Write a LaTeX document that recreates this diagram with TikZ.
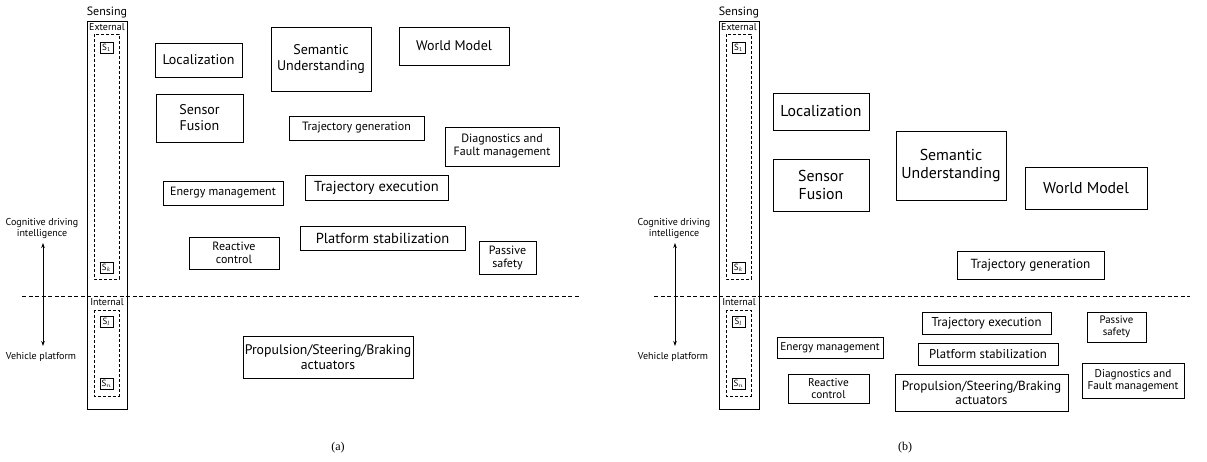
\documentclass[tikz,border=0pt]{standalone}
\usepackage{fontspec}
\setmainfont{Liberation Serif}
\newfontfamily\boxfont{PT Sans}
\usetikzlibrary{arrows.meta}

\newcommand{\fsz}[1]{\fontsize{#1}{#1}\selectfont}

\tikzset{
  blk/.style={draw, line width=0.9pt, inner sep=0pt, align=center, font=\boxfont},
  sensor/.style={draw, line width=0.7pt, inner sep=0pt, minimum width=13pt, minimum height=11pt, font=\boxfont\fsz{9}},
  group/.style={draw, dashed, line width=0.8pt, dash pattern=on 3pt off 2pt},
  column/.style={draw, line width=0.9pt},
  divider/.style={dashed, line width=0.8pt, dash pattern=on 4pt off 2.5pt},
  lvl/.style={align=center, font=\boxfont\fsz{10}, inner sep=0pt},
  tag/.style={font=\fsz{12}, inner sep=0pt},
}

% sensing column: outer frame, external and internal sensor groups
\newcommand{\sensingcol}[2]{%
  \begin{scope}[xshift=#1]
    \draw[column] (87,21) rectangle (127,409);
    \node[font=\boxfont\fsz{12}, inner sep=0pt] (#2sensing) at (107,13) {Sensing};
    \node[font=\boxfont\fsz{10}, inner sep=0pt] (#2ext) at (107,27.5) {External};
    \draw[group] (94,34) rectangle (119,279);
    \node[sensor] (#2s1) at (106.5,47.5) {S$_1$};
    \node[sensor] (#2sk) at (106.5,267.5) {S$_k$};
    \node[font=\boxfont\fsz{10}, inner sep=0pt] (#2int) at (107,302.5) {Internal};
    \draw[group] (94,310) rectangle (119,396);
    \node[sensor] (#2sl) at (106.5,322) {S$_l$};
    \node[sensor] (#2sn) at (106.5,384) {S$_n$};
    \node[lvl] (#2cog) at (42,229) {Cognitive driving\\[1pt]intelligence};
    \node[lvl] (#2veh) at (41,357) {Vehicle platform};
    \coordinate (#2atop) at (43,243);
    \coordinate (#2abot) at (43,346);
    \draw[line width=0.8pt, {Stealth[length=5pt,width=3.5pt]}-{Stealth[length=5pt,width=3.5pt]}] (#2atop) -- (#2abot);
  \end{scope}}

\begin{document}
\begin{tikzpicture}[x=1pt, y=-1pt]
  \useasboundingbox (0,0) rectangle (1207,462);

  % ---------------- panel (a) ----------------
  \sensingcol{0pt}{a}
  \coordinate (adl) at (22,296);
  \coordinate (adr) at (580,296);
  \draw[divider] (adl) -- (adr);

  \node[blk, minimum width=87pt, minimum height=34pt, font=\boxfont\fsz{14}] (aloc) at (198.5,60) {Localization};
  \node[blk, minimum width=100pt, minimum height=64pt, font=\boxfont\fsz{14}] (asem) at (321,59) {Semantic\\[2pt]Understanding};
  \node[blk, minimum width=110pt, minimum height=38pt, font=\boxfont\fsz{14}] (awm) at (454,46) {World Model};
  \node[blk, minimum width=87pt, minimum height=48pt, font=\boxfont\fsz{14}] (asf) at (199.5,118) {Sensor\\[2pt]Fusion};
  \node[blk, minimum width=135pt, minimum height=24pt, font=\boxfont\fsz{12}] (atg) at (356.5,128) {Trajectory generation};
  \node[blk, minimum width=114pt, minimum height=39pt, font=\boxfont\fsz{12}] (adiag) at (502,146.5) {Diagnostics and\\[1pt]Fault management};
  \node[blk, minimum width=120pt, minimum height=24pt, font=\boxfont\fsz{12}] (aem) at (223,193) {Energy management};
  \node[blk, minimum width=143pt, minimum height=25pt, font=\boxfont\fsz{14.5}] (ate) at (376.5,187.5) {Trajectory execution};
  \node[blk, minimum width=165pt, minimum height=24pt, font=\boxfont\fsz{14.5}] (aps) at (382.5,238) {Platform stabilization};
  \node[blk, minimum width=90pt, minimum height=32pt, font=\boxfont\fsz{12}] (arc) at (234,253) {Reactive\\[1pt]control};
  \node[blk, minimum width=57pt, minimum height=33pt, font=\boxfont\fsz{12}] (apas) at (507.5,257.5) {Passive\\[1pt]safety};
  \node[blk, minimum width=170pt, minimum height=42pt, font=\boxfont\fsz{13.8}] (aprop) at (328,357) {Propulsion/Steering/Braking\\[1pt]actuators};

  \node[tag] (capa) at (338,448) {(a)};

  % ---------------- panel (b) ----------------
  \sensingcol{632pt}{b}
  \coordinate (bdl) at (654,296);
  \coordinate (bdr) at (1190,296);
  \draw[divider] (bdl) -- (bdr);

  \node[blk, minimum width=96pt, minimum height=37pt, font=\boxfont\fsz{15.8}] (bloc) at (821,111.5) {Localization};
  \node[blk, minimum width=96pt, minimum height=52pt, font=\boxfont\fsz{15.8}] (bsf) at (821,185) {Sensor\\[2pt]Fusion};
  \node[blk, minimum width=110pt, minimum height=69pt, font=\boxfont\fsz{15.8}] (bsem) at (951,165.5) {Semantic\\[2pt]Understanding};
  \node[blk, minimum width=122pt, minimum height=42pt, font=\boxfont\fsz{15.8}] (bwm) at (1086,188) {World Model};
  \node[blk, minimum width=147pt, minimum height=28pt, font=\boxfont\fsz{13.2}] (btg) at (1030.5,265) {Trajectory generation};
  \node[blk, minimum width=129pt, minimum height=22pt, font=\boxfont\fsz{12.8}] (bte) at (986.5,323) {Trajectory execution};
  \node[blk, minimum width=59pt, minimum height=30pt, font=\boxfont\fsz{10.8}] (bpas) at (1116.5,327) {Passive\\[1pt]safety};
  \node[blk, minimum width=140pt, minimum height=22pt, font=\boxfont\fsz{12.8}] (bps) at (988,354) {Platform stabilization};
  \node[blk, minimum width=173pt, minimum height=37pt, font=\boxfont\fsz{13.2}] (bprop) at (981.5,392.5) {Propulsion/Steering/Braking\\[1pt]actuators};
  \node[blk, minimum width=102pt, minimum height=35pt, font=\boxfont\fsz{11.3}] (bdiag) at (1133,380.5) {Diagnostics and\\[1pt]Fault management};
  \node[blk, minimum width=106pt, minimum height=21pt, font=\boxfont\fsz{11.3}] (bem) at (830,347.5) {Energy management};
  \node[blk, minimum width=81pt, minimum height=29pt, font=\boxfont\fsz{11.3}] (brc) at (828.5,388.5) {Reactive\\[1pt]control};

  \node[tag] (capb) at (905,448) {(b)};
\end{tikzpicture}
\end{document}
